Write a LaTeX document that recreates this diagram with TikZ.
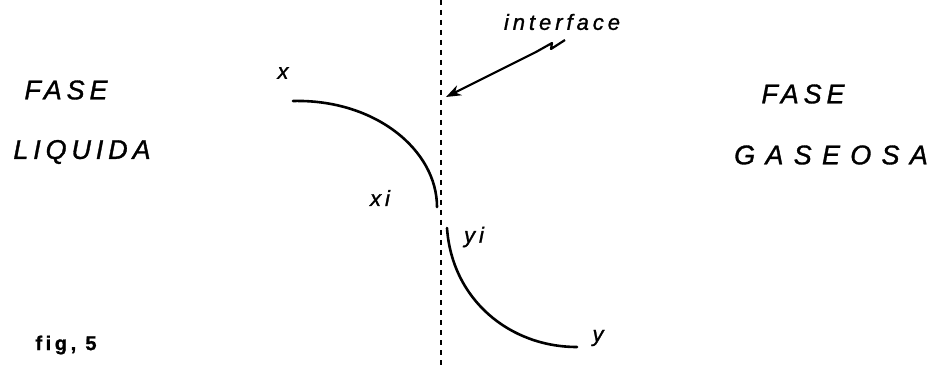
\documentclass[tikz,border=0pt]{standalone}
\usepackage{fontspec}
\setmainfont{Liberation Sans}
\newfontfamily\lblfont[LetterSpace=18, FakeBold=1.2]{Liberation Sans}
\usetikzlibrary{arrows.meta}
\tikzset{
  bigtxt/.style={inner sep=0pt, font=\lblfont\itshape\fontsize{27}{31}\selectfont},
  smalltxt/.style={inner sep=0pt, font=\lblfont\itshape\fontsize{22}{26}\selectfont},
  curve/.style={line width=2.6pt, line cap=round},
  iface/.style={line width=2pt, dash pattern=on 5pt off 5pt},
  pointer/.style={line width=2.2pt, line join=round, -{Stealth[length=15pt, width=11pt]}}
}
\begin{document}
\begin{tikzpicture}[x=1pt, y=-1pt]
\useasboundingbox (0,0) rectangle (942,366);
% interface line
\coordinate (itop) at (441,0);
\coordinate (ibot) at (441,366);
\draw[iface] (itop) -- (ibot);
% labels
\node[bigtxt] (fl) at (66,90) {FASE};
\node[bigtxt] (liq) at (82,152) {LIQUIDA};
\node[bigtxt] (fg) at (803,94) {FASE};
\node[bigtxt, font=\lblfont\itshape\fontsize{27}{31}\selectfont\addfontfeatures{LetterSpace=38}] (gas) at (831,155) {GASEOSA};
\node[smalltxt] (intf) at (562,22) {interface};
\node[smalltxt] (xl) at (283,73) {x};
\node[smalltxt] (xil) at (380,198) {xi};
\node[smalltxt] (yil) at (474,237) {yi};
\node[smalltxt] (yl) at (598,338) {y};
\node[inner sep=0pt, font=\lblfont\bfseries\fontsize{20}{24}\selectfont] (fig) at (66,345) {fig, 5};
% curves
\coordinate (xa) at (293,101);
\coordinate (xb) at (437,207);
\draw[curve] (xa) .. controls (375,99) and (437,150) .. (xb);
\coordinate (ya) at (447,228);
\coordinate (yb) at (577,347);
\draw[curve] (ya) .. controls (452,300) and (510,347) .. (yb);
% pointer
\coordinate (p0) at (565,40);
\coordinate (p1) at (551,49);
\coordinate (p2) at (552,43);
\coordinate (p3) at (536,52);
\coordinate (ptip) at (446,97);
\draw[pointer] (p0) -- (p1) -- (p2) -- (p3) -- (ptip);
\end{tikzpicture}
\end{document}
